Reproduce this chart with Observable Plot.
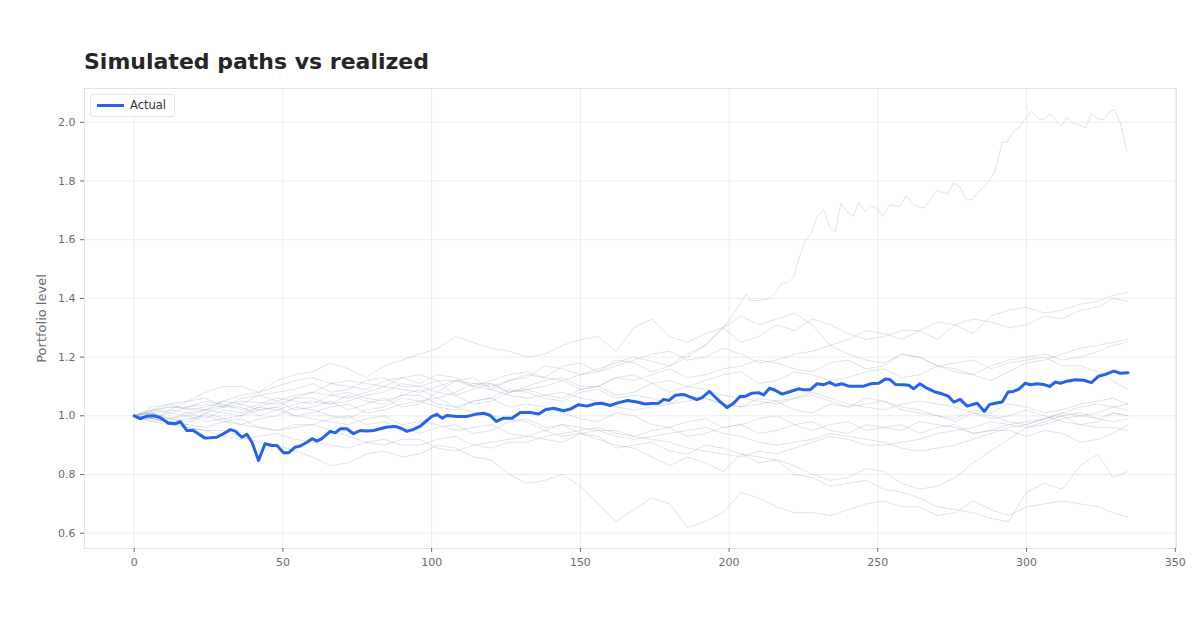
<!DOCTYPE html>
<html>
<head>
<meta charset="utf-8">
<script src="https://cdn.jsdelivr.net/npm/d3@7"></script>
<script src="https://cdn.jsdelivr.net/npm/@observablehq/plot@0.6"></script>
<style>
  body { margin: 0; background: #fff; font-family: "DejaVu Sans", sans-serif; }
  #wrap { position: relative; width: 1200px; height: 630px; overflow: hidden; }
  #title { height: 80px; box-sizing: border-box; padding: 50px 0 0 84px; font-size: 22px; line-height: 24px; font-weight: bold; color: #262626; }
  #legend { position: absolute; left: 90px; top: 94px; width: 85px; height: 23px; box-sizing: border-box; border: 1px solid #e4e4e4; border-radius: 3px; background: #fff; font-size: 11.5px; color: #333; }
  #legend .sw { position: absolute; left: 6px; top: 9px; width: 27px; height: 3px; background: #2563eb; }
  #legend .lb { position: absolute; left: 39px; top: 3px; line-height: 14px; }
  svg { display: block; }
</style>
</head>
<body>
<div id="wrap">
  <div id="title">Simulated paths vs realized</div>
  <div id="chart"></div>
  <div id="legend"><span class="sw"></span><span class="lb">Actual</span></div>
</div>
<script>
// ---- realized ("Actual") path ----
const actualX = [0,2.0,4.3,6.5,8.7,11.5,13.8,15.5,17.7,19.9,23.8,27.8,30.0,32.3,34.0,36.2,37.9,39.6,41.8,44.0,46.3,48.0,50.2,51.9,54.1,55.8,58.1,59.8,61.4,63.1,65.9,67.6,69.3,71.5,73.7,76.0,78.2,80.5,82.7,85.0,87.8,90.0,91.7,93.9,96.2,98.4,100.1,101.8,103.5,105.1,108.5,111.9,114.7,117.5,119.7,121.7,124.2,127.0,129.8,133.2,136.0,138.2,141.0,144.4,146.6,149.4,152.2,155.0,157.2,160.0,162.8,165.9,169.0,171.8,174.1,176.3,178.0,179.7,181.9,184.7,187.0,189.2,190.9,193.4,195.9,199.3,201.5,203.8,205.4,207.7,209.9,211.6,213.6,215.5,217.8,220.6,223.4,225.0,227.3,229.5,231.8,233.8,235.7,238.0,240.2,243.0,245.2,247.5,250.3,252.5,254.0,255.9,258.7,260.4,262.0,264.1,266.5,269.3,271.6,273.8,275.5,277.7,280.0,283.4,285.8,287.6,289.5,291.8,293.8,295.5,297.3,299.6,301.3,303.5,305.7,307.8,309.7,311.4,313.6,316.4,319.2,321.8,324.2,326.5,329.3,331.5,334.1];
const actualY = [1.000,0.990,0.999,1.000,0.994,0.975,0.973,0.980,0.950,0.950,0.924,0.927,0.939,0.953,0.948,0.927,0.937,0.910,0.848,0.905,0.899,0.899,0.874,0.874,0.893,0.897,0.910,0.922,0.914,0.922,0.947,0.942,0.956,0.956,0.939,0.950,0.948,0.950,0.956,0.962,0.964,0.956,0.947,0.954,0.965,0.984,0.998,1.005,0.992,1.001,0.998,0.998,1.005,1.009,1.001,0.981,0.992,0.992,1.011,1.011,1.006,1.021,1.026,1.017,1.023,1.038,1.033,1.041,1.043,1.035,1.045,1.052,1.047,1.040,1.042,1.043,1.056,1.052,1.070,1.073,1.064,1.055,1.062,1.083,1.058,1.028,1.043,1.067,1.066,1.077,1.079,1.071,1.094,1.087,1.074,1.083,1.092,1.089,1.089,1.109,1.106,1.114,1.104,1.109,1.101,1.101,1.101,1.109,1.111,1.125,1.124,1.107,1.106,1.104,1.092,1.109,1.094,1.081,1.075,1.066,1.047,1.056,1.033,1.043,1.015,1.039,1.043,1.047,1.081,1.083,1.090,1.111,1.106,1.109,1.107,1.100,1.115,1.111,1.118,1.123,1.121,1.113,1.135,1.141,1.152,1.145,1.147];

// ---- simulated path that runs away to the top (read at its own steps) ----
const simAX = [0,12,24,36,48,60,72,84,96,108,120,132,144,156,168,180,184,188,192,195,198,201,204.3,205.8,207.1,209.9,213.3,215.5,217.8,219.7,221.7,223.4,225.6,227.6,229.5,231.8,233.8,235.7,237.6,239.6,241.7,243.6,245.8,247.7,249.7,251.7,253.9,257.3,259.5,262.0,264.3,265.6,267.7,269.7,273.5,275.5,277.5,279.7,281.7,283.9,287.3,289.5,291.8,293.4,295.7,297.7,299.6,301.6,303.7,305.7,307.8,309.7,311.6,313.6,315.6,317.7,319.8,321.8,323.9,325.7,327.8,329.6,331.5,333.8];
const simA = [1.00,1.03,1.02,1.05,1.04,1.08,1.06,1.10,1.08,1.12,1.10,1.14,1.12,1.16,1.20,1.17,1.20,1.22,1.24,1.27,1.30,1.34,1.393,1.416,1.393,1.393,1.399,1.418,1.452,1.453,1.472,1.535,1.597,1.620,1.677,1.702,1.643,1.628,1.724,1.696,1.679,1.726,1.696,1.716,1.707,1.679,1.719,1.713,1.750,1.719,1.709,1.709,1.736,1.768,1.756,1.793,1.781,1.736,1.736,1.764,1.798,1.836,1.932,1.932,1.972,1.983,2.012,2.037,2.015,2.008,2.029,2.008,1.986,2.017,1.995,1.991,1.981,2.029,2.012,2.008,2.034,2.044,2.000,1.900];

// ---- other simulated paths: values at simX, plus in-between values at simMidX ----
const simX = [0,12,24,36,48,60,72,84,96,108,120,132,144,156,168,180,192,204,216,228,240,252,264,276,288,300,312,324,334];
const simMidX = [6,18,30,42,54,66,78,90,102,114,126,138,150,162,174,186,198,210,222,234,246,258,270,282,294,306,318,329];

const simB = [1.00,0.99,1.02,1.04,1.03,1.06,1.05,1.08,1.10,1.12,1.09,1.13,1.16,1.15,1.18,1.17,1.24,1.34,1.33,1.31,1.26,1.28,1.29,1.31,1.34,1.37,1.36,1.39,1.42];
const simBmid = [0.98,1.01,1.05,1.02,1.06,1.04,1.07,1.11,1.08,1.13,1.12,1.17,1.14,1.19,1.15,1.20,1.30,1.31,1.35,1.24,1.29,1.26,1.32,1.28,1.36,1.35,1.38,1.41];
const simC = [1.00,1.04,1.08,1.10,1.12,1.15,1.16,1.17,1.21,1.27,1.23,1.20,1.24,1.27,1.30,1.27,1.28,1.25,1.31,1.33,1.28,1.27,1.29,1.31,1.32,1.31,1.33,1.37,1.39];
const simCmid = [1.03,1.05,1.10,1.08,1.14,1.18,1.13,1.19,1.23,1.25,1.22,1.21,1.26,1.22,1.33,1.25,1.30,1.27,1.29,1.31,1.26,1.29,1.26,1.33,1.30,1.34,1.36,1.40];
const simD = [1.00,0.98,1.01,1.03,1.02,1.05,1.07,1.04,1.09,1.08,1.11,1.10,1.13,1.10,1.12,1.16,1.14,1.17,1.18,1.15,1.19,1.17,1.20,1.16,1.12,1.18,1.21,1.24,1.26];
const simDmid = [1.01,0.97,1.03,1.00,1.04,1.04,1.05,1.07,1.06,1.11,1.08,1.12,1.10,1.13,1.14,1.13,1.16,1.19,1.16,1.18,1.16,1.21,1.17,1.14,1.15,1.19,1.23,1.25];
const simE = [1.00,1.02,0.99,1.01,1.05,1.03,1.02,1.06,1.04,1.07,1.05,1.09,1.12,1.10,1.14,1.08,1.12,1.15,1.12,1.14,1.13,1.16,1.14,1.15,1.17,1.20,1.19,1.22,1.25];
const simEmid = [0.99,1.01,1.02,1.03,1.02,1.05,1.04,1.03,1.08,1.04,1.08,1.10,1.09,1.13,1.11,1.10,1.14,1.11,1.15,1.12,1.15,1.13,1.17,1.14,1.19,1.21,1.20,1.24];
const simF = [1.00,1.01,1.04,1.06,1.05,1.08,1.10,1.12,1.11,1.13,1.12,1.15,1.17,1.15,1.19,1.22,1.20,1.21,1.19,1.22,1.21,1.18,1.20,1.18,1.16,1.19,1.17,1.15,1.09];
const simFmid = [1.02,1.03,1.03,1.07,1.07,1.11,1.09,1.13,1.14,1.10,1.14,1.13,1.18,1.17,1.21,1.19,1.23,1.18,1.21,1.24,1.19,1.21,1.17,1.19,1.18,1.20,1.17,1.12];
const simG = [1.00,0.99,1.01,0.97,1.00,1.02,0.99,1.03,1.05,1.02,1.06,1.08,1.05,1.09,1.07,1.04,1.06,1.03,1.05,1.01,1.03,1.05,1.02,0.99,1.01,1.03,1.02,1.05,1.04];
const simGmid = [1.01,0.98,0.99,0.99,1.03,1.00,1.02,1.06,1.03,1.05,1.09,1.06,1.08,1.06,1.06,1.07,1.04,1.06,1.02,1.04,1.06,1.03,1.00,1.02,1.04,1.01,1.04,1.06];
const simH = [1.00,1.03,1.05,1.02,1.06,1.04,1.08,1.05,1.07,1.03,1.06,1.04,1.01,0.98,1.00,0.96,0.99,0.97,1.00,0.95,0.98,0.96,0.94,0.97,0.95,0.98,1.00,0.98,1.00];
const simHmid = [1.02,1.03,1.04,1.04,1.05,1.07,1.06,1.07,1.04,1.05,1.03,1.03,0.99,1.01,0.97,0.98,0.96,0.99,0.97,0.97,0.95,0.97,0.96,0.94,0.97,0.99,0.97,1.01];
const simI = [1.00,0.98,0.96,0.99,0.95,0.97,1.00,0.98,0.94,0.97,0.95,0.99,0.97,0.95,0.93,0.96,0.94,0.97,0.95,0.98,0.94,0.96,0.98,0.96,0.95,0.93,0.94,0.92,0.97];
const simImid = [0.99,0.97,0.98,0.96,0.97,0.99,0.97,0.96,0.96,0.94,0.98,0.96,0.94,0.95,0.95,0.93,0.96,0.94,0.97,0.95,0.97,0.95,0.97,0.94,0.95,0.95,0.91,0.94];
const simJ = [1.00,1.01,0.98,1.00,1.02,0.99,0.97,1.00,0.98,0.95,0.97,0.93,0.91,0.93,0.90,0.88,0.90,0.87,0.85,0.80,0.79,0.81,0.75,0.79,0.88,0.96,0.99,1.01,1.04];
const simJmid = [0.99,1.00,0.99,1.03,1.00,0.98,0.99,0.97,0.97,0.96,0.94,0.92,0.94,0.89,0.91,0.87,0.89,0.84,0.83,0.78,0.82,0.77,0.76,0.84,0.92,0.97,1.00,1.03];
const simK = [1.00,0.99,1.02,1.00,1.03,1.01,1.04,1.02,1.05,1.03,1.00,0.98,0.93,0.92,0.89,0.83,0.84,0.87,0.85,0.79,0.77,0.75,0.72,0.68,0.65,0.74,0.75,0.87,0.81];
const simKmid = [1.01,1.00,1.01,1.02,1.00,1.03,1.01,1.04,1.06,1.01,0.99,0.95,0.94,0.90,0.86,0.86,0.81,0.86,0.80,0.76,0.78,0.74,0.69,0.67,0.64,0.77,0.83,0.79];
const simL = [1.00,0.98,0.95,0.93,0.90,0.86,0.84,0.88,0.87,0.89,0.85,0.77,0.80,0.70,0.68,0.70,0.64,0.74,0.69,0.67,0.68,0.71,0.69,0.67,0.68,0.69,0.71,0.69,0.655];
const simLmid = [0.99,0.96,0.95,0.91,0.88,0.83,0.87,0.86,0.90,0.86,0.80,0.78,0.76,0.64,0.72,0.62,0.67,0.72,0.67,0.66,0.70,0.69,0.66,0.71,0.66,0.70,0.70,0.67];
const simN = [1.00,1.02,1.06,1.04,1.08,1.11,1.09,1.13,1.10,1.07,1.11,1.09,1.06,1.10,1.08,1.12,1.09,1.06,1.04,1.07,1.03,1.05,1.01,0.98,1.00,0.97,1.01,0.99,1.00];
const simNmid = [1.01,1.05,1.03,1.07,1.09,1.08,1.12,1.10,1.12,1.09,1.08,1.07,1.09,1.07,1.11,1.10,1.07,1.05,1.06,1.05,1.04,1.02,1.00,1.01,0.98,0.99,1.00,1.01];
const simO = [1.00,0.97,0.95,0.92,0.94,0.91,0.89,0.92,0.90,0.93,0.89,0.91,0.94,0.96,0.93,0.91,0.88,0.86,0.87,0.91,0.92,0.90,0.92,0.95,0.98,0.96,1.00,0.99,0.99];
const simOmid = [0.98,0.96,0.93,0.93,0.92,0.90,0.91,0.90,0.92,0.90,0.91,0.93,0.95,0.94,0.92,0.89,0.87,0.88,0.89,0.93,0.90,0.91,0.94,0.96,0.97,0.98,1.01,0.98];
const simP = [1.00,0.98,1.00,0.97,0.95,0.97,0.93,0.90,0.92,0.88,0.91,0.93,0.97,0.95,0.92,0.94,0.96,0.93,0.90,0.92,0.93,0.91,0.88,0.90,0.94,0.97,1.01,1.04,1.02];
const simPmid = [0.99,0.99,0.98,0.96,0.96,0.95,0.91,0.92,0.89,0.90,0.92,0.95,0.96,0.93,0.93,0.95,0.94,0.91,0.91,0.94,0.92,0.89,0.89,0.92,0.96,0.99,1.03,1.03];
const simQ = [1.00,1.04,1.03,1.07,1.10,1.13,1.12,1.10,1.14,1.12,1.09,1.06,1.08,1.05,1.02,1.04,1.06,1.03,1.05,1.08,1.04,1.02,1.05,1.03,0.99,1.02,0.98,0.96,0.95];
const simQmid = [1.02,1.02,1.05,1.08,1.12,1.11,1.11,1.13,1.12,1.10,1.07,1.07,1.06,1.03,1.03,1.05,1.04,1.04,1.06,1.06,1.03,1.04,1.04,1.01,1.00,1.00,0.97,0.96];

// ---- axis ticks and labels ----
const xTicks = [0, 50, 100, 150, 200, 250, 300, 350];
const yTicks = [0.6, 0.8, 1.0, 1.2, 1.4, 1.6, 1.8, 2.0];
const yLabel = "Portfolio level";

// build tidy tables for Plot
const simRows = [];
simA.forEach((y, i) => simRows.push({path: "A", x: simAX[i], y}));
const gridded = {B: [simB, simBmid], C: [simC, simCmid], D: [simD, simDmid], E: [simE, simEmid], F: [simF, simFmid],
  G: [simG, simGmid], H: [simH, simHmid], I: [simI, simImid], J: [simJ, simJmid], K: [simK, simKmid],
  L: [simL, simLmid], N: [simN, simNmid], O: [simO, simOmid], P: [simP, simPmid], Q: [simQ, simQmid]};
for (const [name, [main, mid]] of Object.entries(gridded)) {
  main.forEach((y, i) => {
    simRows.push({path: name, x: simX[i], y});
    if (i < mid.length) simRows.push({path: name, x: simMidX[i], y: mid[i]});
  });
}
const actualRows = actualX.map((x, i) => ({x, y: actualY[i]}));

const chart = Plot.plot({
  width: 1200,
  height: 550,
  marginTop: 8,
  marginBottom: 82,
  marginLeft: 84,
  marginRight: 24,
  style: {fontFamily: "DejaVu Sans, sans-serif", fontSize: "11px", color: "#6b6b6b", background: "white"},
  x: {domain: [-16.7, 350.4]},
  y: {domain: [0.548, 2.115]},
  marks: [
    Plot.gridX(xTicks, {stroke: "#ededed", strokeOpacity: 1}),
    Plot.gridY(yTicks, {stroke: "#ededed", strokeOpacity: 1}),
    Plot.frame({stroke: "#e3e3e3"}),
    Plot.line(simRows, {x: "x", y: "y", z: "path", stroke: "#94a3b8", strokeOpacity: 0.3, strokeWidth: 1}),
    Plot.line(actualRows, {x: "x", y: "y", stroke: "#2563eb", strokeWidth: 3}),
    Plot.axisX({ticks: xTicks, tickSize: 4, tickPadding: 6, label: null, stroke: "#6b6b6b"}),
    Plot.axisY({ticks: yTicks, tickFormat: ".1f", tickSize: 4, tickPadding: 5, stroke: "#6b6b6b", label: null}),
    Plot.text([yLabel], {text: d => d, frameAnchor: "left", dx: -43, rotate: -90, fontSize: 13, fill: "#6b6b6b", textAnchor: "middle"})
  ]
});
document.getElementById("chart").appendChild(chart);
</script>
</body>
</html>
